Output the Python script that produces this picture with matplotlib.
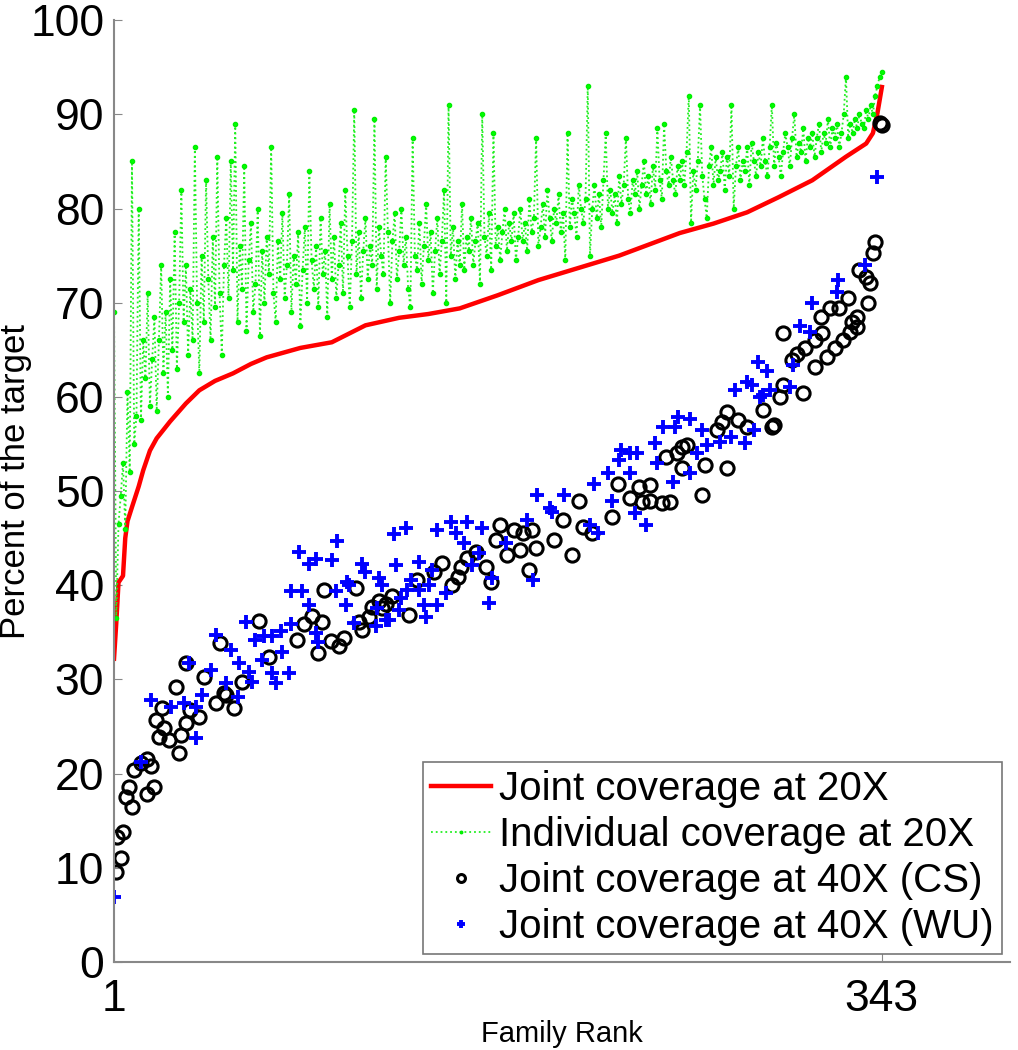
import matplotlib

matplotlib.use("Agg")
import matplotlib.pyplot as plt
import numpy as np

# joint coverage at 20X (sorted), read at selected ranks
joint_rank = [1, 2, 3, 5, 6, 7, 9, 12, 14, 17, 20, 26, 33, 39, 46, 54, 62, 69,
              84, 98, 113, 128, 141, 155, 172, 190, 208, 226, 244, 253, 262,
              268, 283, 297, 312, 327, 336, 339, 341, 343]
joint_20x = [32.2, 36.0, 40.3, 41.0, 45.0, 46.8, 48.3, 50.5, 52.2, 54.3, 55.6,
             57.4, 59.3, 60.7, 61.7, 62.5, 63.5, 64.2, 65.2, 65.8, 67.6, 68.4,
             68.8, 69.4, 70.8, 72.4, 73.7, 75.0, 76.6, 77.4, 78.0, 78.4, 79.6,
             81.2, 83.0, 85.5, 86.9, 88.0, 90.1, 92.9]

# individual coverage at 20X, one value per family rank 1..343
individual_20x = [
    69.0, 36.5, 46.5, 49.5, 53.0, 46.0, 60.5, 52.0, 85.0, 55.0,
    58.0, 80.0, 57.5, 66.0, 62.0, 71.0, 59.0, 64.0, 68.5, 58.5,
    66.0, 74.0, 62.5, 69.0, 60.0, 72.5, 65.0, 77.5, 63.0, 70.0,
    82.0, 68.0, 74.0, 64.5, 71.5, 66.0, 86.5, 70.0, 62.5, 75.0,
    68.0, 83.0, 72.5, 66.0, 77.0, 69.5, 85.5, 71.0, 64.5, 74.0,
    79.0, 70.5, 85.0, 73.5, 89.0, 68.0, 76.0, 71.5, 84.5, 67.0,
    74.5, 78.5, 69.0, 72.0, 80.0, 66.5, 75.5, 70.0, 77.0, 73.0,
    86.5, 71.0, 68.0, 76.5, 72.5, 79.5, 70.5, 74.0, 81.5, 69.0,
    75.0, 72.0, 77.5, 67.5, 73.5, 78.0, 70.0, 84.0, 74.5, 71.5,
    76.0, 69.5, 79.0, 73.0, 75.5, 68.5, 80.5, 72.5, 77.0, 70.5,
    74.0, 78.5, 71.0, 82.0, 75.0, 69.5, 76.5, 90.5, 73.0, 77.5,
    70.5, 75.5, 79.0, 72.5, 76.0, 74.0, 89.5, 71.5, 78.0, 75.0,
    73.0, 85.5, 77.5, 70.0, 76.5, 79.5, 72.5, 75.5, 80.0, 74.0,
    77.0, 71.5, 69.5, 87.5, 75.0, 73.5, 78.5, 72.0, 76.0, 80.5,
    74.5, 77.5, 71.0, 75.5, 79.0, 73.0, 76.5, 82.0, 70.0, 91.0,
    75.0, 78.0, 72.5, 76.5, 74.0, 80.5, 73.5, 77.0, 75.5, 79.0,
    74.0, 76.5, 78.5, 72.0, 90.0, 77.0, 75.0, 79.5, 73.5, 88.0,
    76.0, 78.0, 74.5, 77.5, 80.0, 75.5, 78.5, 76.5, 79.5, 74.5,
    77.0, 80.0, 76.5, 78.5, 75.5, 81.0, 77.5, 79.0, 87.5, 76.0,
    78.0, 80.5, 77.0, 82.0, 79.0, 76.5, 80.0, 78.5, 81.5, 77.5,
    79.5, 74.5, 88.0, 78.0, 81.0, 79.5, 77.0, 82.5, 80.0, 78.5,
    81.0, 93.0, 75.0, 80.0, 82.5, 79.0, 81.5, 78.0, 83.0, 88.0,
    80.0, 82.0, 79.5, 81.5, 78.5, 83.5, 80.5, 82.5, 87.5, 81.0,
    79.5, 83.0, 81.5, 84.0, 80.0, 82.5, 85.0, 81.5, 83.5, 80.5,
    84.5, 82.0, 88.5, 83.0, 81.0, 89.0, 84.0, 82.5, 85.5, 83.0,
    81.5, 84.5, 83.0, 85.0, 82.5, 86.0, 92.0, 78.5, 84.0, 82.0,
    85.0, 91.0, 83.5, 81.0, 79.0, 84.5, 86.5, 82.5, 85.5, 83.0,
    84.0, 86.0, 82.0, 85.5, 83.5, 91.0, 80.0, 84.5, 86.5, 83.0,
    85.0, 84.0, 86.5, 82.5, 87.0, 85.0, 83.5, 86.0, 84.5, 87.5,
    85.0, 83.5, 86.5, 91.0, 84.5, 87.0, 85.5, 83.5, 86.0, 88.0,
    86.5, 84.5, 87.5, 90.0, 85.5, 87.0, 86.0, 88.5, 85.0, 87.5,
    86.5, 88.0, 85.5, 87.5, 89.0, 86.0, 88.0, 87.0, 89.5, 86.5,
    88.5, 87.5, 89.0, 86.5, 88.0, 90.0, 94.0, 87.5, 89.0, 88.0,
    89.5, 88.5, 90.0, 89.0, 88.5, 90.5, 89.5, 91.0, 90.0, 92.0,
    93.0, 94.0, 94.5,
]

# joint coverage at 40X, CS
cs_rank = [1.9, 4.1, 2.3, 5, 9, 6.3, 7.7, 15.7, 18.8, 10, 13, 15.7, 17.5, 30,
           21, 25.5, 19.7, 23.3, 31, 33, 22.4, 28.6, 39, 35, 41, 33, 46.5, 50,
           54.5, 58, 48, 70, 82.6, 92,
           65.7, 94.6, 108.9, 85.7, 89, 93.7, 97.6, 101, 103.5, 110, 111.6,
           116, 119, 122, 125, 51,
           114.7, 132.5, 136, 143.7, 147, 151.7, 154, 155.7, 158, 162.4,
           166.9, 169, 172.7, 171, 176, 179, 183, 187, 189, 186, 181.6, 197,
           120.5,
           204.8, 208.3, 200.8, 209.7, 214, 222.6, 225.3, 230.6, 235, 236,
           239.6, 245, 248.5, 239.6, 262.7, 247, 251.6, 253.8, 256, 253.8,
           264, 274, 269.4, 272, 274, 278.8, 282.8, 290, 294,
           342, 343, 339.9, 339, 333, 336, 337.6, 336.8, 327.8, 324, 319.8,
           316, 332, 329.6, 331.8, 328.8, 325.6, 322, 318.5, 313, 316.2, 313,
           308.6, 305, 303, 298.9, 307.8, 298.9, 297.5, 295]
cs_40x = [9.6, 11.0, 13.3, 13.8, 16.5, 17.5, 18.6, 17.8, 18.6, 20.4, 21.1,
          21.6, 20.8, 22.2, 23.9, 23.6, 25.7, 24.8, 24.1, 25.4, 27.0, 29.2,
          26.0, 26.8, 30.3, 31.8, 27.5, 28.6, 27.0, 29.7, 33.9, 32.4, 34.2,
          32.8,
          36.2, 39.5, 39.7, 35.9, 36.7, 36.1, 34.1, 33.5, 34.4, 36.1, 35.3,
          37.7, 38.3, 38.0, 38.9, 28.3,
          36.6, 36.8, 40.6, 41.4, 42.4, 40.0, 40.9, 41.9, 42.9, 43.5, 41.9,
          40.3, 46.4, 44.8, 43.2, 45.9, 45.5, 45.9, 44.0, 41.6, 43.7, 44.8,
          37.6,
          43.2, 49.0, 46.9, 46.2, 45.5, 47.2, 50.8, 49.3, 50.4, 48.8, 49.0,
          48.7, 48.8, 50.6, 49.6, 53.6, 54.0, 54.7, 54.9, 52.5, 52.8, 52.5,
          56.5, 57.3, 58.4, 57.5, 56.8, 58.6, 56.8,
          89.1, 88.9, 76.4, 75.3, 73.5, 72.7, 72.1, 70.0, 70.5, 69.4, 69.4,
          68.5, 68.5, 68.0, 67.4, 66.9, 66.0, 65.2, 64.2, 63.2, 66.8, 66.0,
          65.2, 64.6, 63.9, 66.8, 60.4, 61.3, 60.0, 57.0]

# joint coverage at 40X, WU
wu_rank = [1, 13, 17.5, 26.5, 32, 37.5, 37.5, 40, 34.4, 44, 51, 56, 53, 56.7,
           61, 62.5, 67, 71.5, 73, 79, 76, 64, 92,
           83.5, 88, 91, 98, 100.5, 80, 84.8, 100, 59.8, 46.5, 68, 71.5, 75.5,
           79.9, 88, 91, 104.4, 104.9, 111.6, 113, 119, 120.5, 125.8, 126.7,
           117.8, 122.3,
           131, 137, 145, 151, 153.5, 158.4, 165, 157, 142.8, 160.6, 163.7,
           169.5, 168, 187.4, 189.6, 195, 185, 175.8, 105.8, 108, 118, 123.6,
           129, 131.6, 137, 139, 140, 145, 149, 128, 133.4, 141.4,
           196, 201.6, 212.8, 216.4, 215, 220.8, 222.6, 226, 227, 230.6, 234,
           230.6, 232.9, 238, 241.8, 245.3, 250.7, 252, 257.4, 262.7, 249.8,
           257.4, 260.5, 265, 270.8, 276, 281.9, 277.5, 283, 287.7, 290, 242.7,
           340.8, 335.4, 323.4, 323, 311.8, 306.4, 310.9, 303.3, 292, 285,
           293, 288.6, 302, 286]
wu_40x = [6.9, 21.2, 27.8, 27.1, 27.5, 27.1, 23.8, 28.3, 31.7, 31.0, 29.6,
          28.1, 33.1, 31.7, 30.8, 29.7, 32.1, 30.7, 29.6, 30.7, 32.9, 34.2,
          34.0,
          43.5, 42.3, 42.8, 42.7, 44.7, 39.4, 39.4, 39.4, 36.1, 34.7, 34.6,
          34.6, 35.1, 35.9, 37.9, 34.9, 37.9, 40.3, 42.3, 41.4, 40.8, 40.0,
          45.4, 42.1, 35.7, 36.3,
          46.1, 42.5, 45.9, 46.7, 45.6, 46.7, 46.1, 44.5, 41.6, 42.1, 43.4,
          40.8, 38.1, 40.6, 49.6, 48.2, 46.9, 44.5, 40.0, 36.0, 37.6, 36.3,
          38.7, 39.5, 39.5, 37.9, 36.6, 37.9, 39.2, 37.4, 40.6, 40.0,
          47.8, 49.6, 46.4, 45.5, 50.8, 51.9, 49.0, 53.3, 54.4, 54.0, 54.0,
          51.9, 47.7, 46.4, 55.1, 56.8, 56.8, 57.9, 57.7, 56.5, 51.0, 51.9,
          54.0, 54.9, 55.2, 55.7, 55.1, 60.7, 61.6, 63.7, 60.2, 53.0,
          83.3, 74.0, 72.4, 71.1, 70.0, 67.5, 66.9, 63.4, 62.8, 61.3, 60.7,
          60.0, 61.0, 56.5]

family_rank = np.arange(1, len(individual_20x) + 1)

plt.rcParams["font.family"] = ["Liberation Sans", "DejaVu Sans"]

fig = plt.figure(figsize=(10.18, 10.5), dpi=100, facecolor="white")
ax = fig.add_axes([0.112, 0.0838, 0.880, 0.897])

ax.plot(joint_rank, joint_20x, color="red", linewidth=3.2,
        label="Joint coverage at 20X")
ax.plot(family_rank, individual_20x, color="#22ee22", linestyle=":",
        linewidth=1.3, marker=".", markersize=6, markerfacecolor="#00ff00",
        markeredgecolor="#00ee00", label="Individual coverage at 20X")
ax.plot(cs_rank, cs_40x, linestyle="none", marker="o", markersize=9.5,
        markerfacecolor="none", markeredgecolor="black", markeredgewidth=2.2,
        label="Joint coverage at 40X (CS)")
ax.plot(wu_rank, wu_40x, linestyle="none", marker="+", markersize=10,
        color="blue", markeredgewidth=2.8,
        label="Joint coverage at 40X (WU)")

ax.set_xlim(1, 400)
ax.set_ylim(0, 100)
ax.set_xticks([1, 343])
ax.set_yticks(np.arange(0, 101, 10))
ax.tick_params(direction="in", length=6, color="#888888", labelsize=32,
               pad=7)
ax.tick_params(axis="x", pad=12)
for side in ["top", "right"]:
    ax.spines[side].set_visible(False)
for side in ["left", "bottom"]:
    ax.spines[side].set_color("#888888")
    ax.spines[side].set_linewidth(1.5)

ax.set_xlabel("Family Rank", fontsize=21)
ax.set_ylabel("Percent of the target", fontsize=25)
ax.xaxis.set_label_coords(0.5, -0.062)
ax.yaxis.set_label_coords(-0.092, 0.51)

legend = ax.legend(loc="lower right", fontsize=29, frameon=True,
                   fancybox=False, handlelength=1.5, handletextpad=0.2,
                   labelspacing=0.2, borderpad=0.2, borderaxespad=0.2,
                   markerscale=0.6)
legend.get_frame().set_edgecolor("#555555")
legend.get_frame().set_linewidth(1.2)

fig.savefig("out.png", dpi=100, facecolor="white")
